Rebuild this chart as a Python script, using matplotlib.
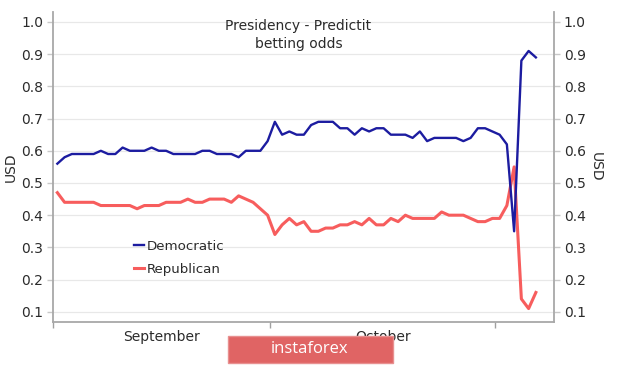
import matplotlib
matplotlib.use("Agg")
import matplotlib.pyplot as plt
import matplotlib.patches as mpatches
import numpy as np

plt.rcParams['font.family'] = ['DejaVu Sans']

title = "Presidency - Predictit\nbetting odds"
series_names = ["Democratic", "Republican"]
democratic = [0.56, 0.58, 0.59, 0.59, 0.59, 0.59, 0.60, 0.59, 0.59, 0.61,
              0.60, 0.60, 0.60, 0.61, 0.60, 0.60, 0.59, 0.59, 0.59, 0.59,
              0.60, 0.60, 0.59, 0.59, 0.59, 0.58, 0.60, 0.60, 0.60, 0.63,
              0.69, 0.65, 0.66, 0.65, 0.65, 0.68, 0.69, 0.69, 0.69, 0.67,
              0.67, 0.65, 0.67, 0.66, 0.67, 0.67, 0.65, 0.65, 0.65, 0.64,
              0.66, 0.63, 0.64, 0.64, 0.64, 0.64, 0.63, 0.64, 0.67, 0.67,
              0.66, 0.65, 0.62, 0.35, 0.88, 0.91, 0.89]
republican = [0.47, 0.44, 0.44, 0.44, 0.44, 0.44, 0.43, 0.43, 0.43, 0.43,
              0.43, 0.42, 0.43, 0.43, 0.43, 0.44, 0.44, 0.44, 0.45, 0.44,
              0.44, 0.45, 0.45, 0.45, 0.44, 0.46, 0.45, 0.44, 0.42, 0.40,
              0.34, 0.37, 0.39, 0.37, 0.38, 0.35, 0.35, 0.36, 0.36, 0.37,
              0.37, 0.38, 0.37, 0.39, 0.37, 0.37, 0.39, 0.38, 0.40, 0.39,
              0.39, 0.39, 0.39, 0.41, 0.40, 0.40, 0.40, 0.39, 0.38, 0.38,
              0.39, 0.39, 0.43, 0.55, 0.14, 0.11, 0.16]
month_labels = ["September", "October"]
y_ticks = [0.1, 0.2, 0.3, 0.4, 0.5, 0.6, 0.7, 0.8, 0.9, 1.0]
y_label = "USD"
watermark = "instaforex"

days = np.arange(len(democratic))
month_bounds = [-0.6, 29.35, 60.4]

fig = plt.figure(figsize=(6.2, 3.65), dpi=100)
ax = fig.add_axes([53/620, 1-322/365, (554-53)/620, (322-12)/365])

text_c = '#2b2b2b'
ax.plot(days, democratic, color='#1c1ca0', lw=1.7, label=series_names[0], zorder=3)
ax.plot(days, republican, color='#f75d5d', lw=2.2, label=series_names[1], zorder=2)

ax.set_xlim(-0.6, 68.5)
ax.set_ylim(0.0683, 1.031)
ax.set_yticks(y_ticks)
ax.set_yticklabels([f"{v:.1f}" for v in y_ticks])
ax.yaxis.grid(True, color='#e8e8e8', lw=0.9)
ax.set_axisbelow(True)

ax.set_xticks(month_bounds)
ax.set_xticklabels([])
mids = [(month_bounds[i] + month_bounds[i+1]) / 2 for i in range(len(month_labels))]
ax.set_xticks(mids, minor=True)
ax.set_xticklabels(month_labels, minor=True)
ax.tick_params(axis='x', which='minor', length=0, pad=6, labelsize=10, labelcolor=text_c)
ax.tick_params(axis='x', which='major', length=4, color='#a0a0a0', width=1)
ax.tick_params(axis='y', which='major', length=4, color='#c8c8c8', width=1,
               labelsize=10, labelcolor=text_c, right=True, labelright=True, pad=3)

ax.spines['top'].set_visible(False)
for s in ['left', 'right', 'bottom']:
    ax.spines[s].set_color('#a8a8a8')
    ax.spines[s].set_linewidth(1.3)

ax.set_ylabel(y_label, fontsize=10, color=text_c, labelpad=2.5)
ax2 = ax.secondary_yaxis('right')
ax2.set_yticks([])
ax2.spines['right'].set_visible(False)
ax2.set_ylabel(y_label, fontsize=10, color=text_c, rotation=270, labelpad=35)

ax.text(0.49, 0.978, title, transform=ax.transAxes, ha='center', va='top',
        fontsize=10, color=text_c, linespacing=1.38)

leg = ax.legend(loc='upper left', bbox_to_anchor=(134/620, 1-240/365),
                bbox_transform=fig.transFigure, frameon=False,
                handlelength=0.75, handletextpad=0.2, labelspacing=0.72,
                borderpad=0, borderaxespad=0, fontsize=9.6)
for t in leg.get_texts():
    t.set_color(text_c)

rect = mpatches.Rectangle((228/620, 1-363/365), (393-228)/620, 27/365,
                          transform=fig.transFigure, facecolor='#e06464',
                          edgecolor='#e89090', lw=1, zorder=10)
fig.patches.append(rect)
fig.text(310/620, 1-349/365, watermark, family='Open Sans', ha='center', va='center',
         color='white', fontsize=12, zorder=11)

fig.savefig('out.png', dpi=100)
